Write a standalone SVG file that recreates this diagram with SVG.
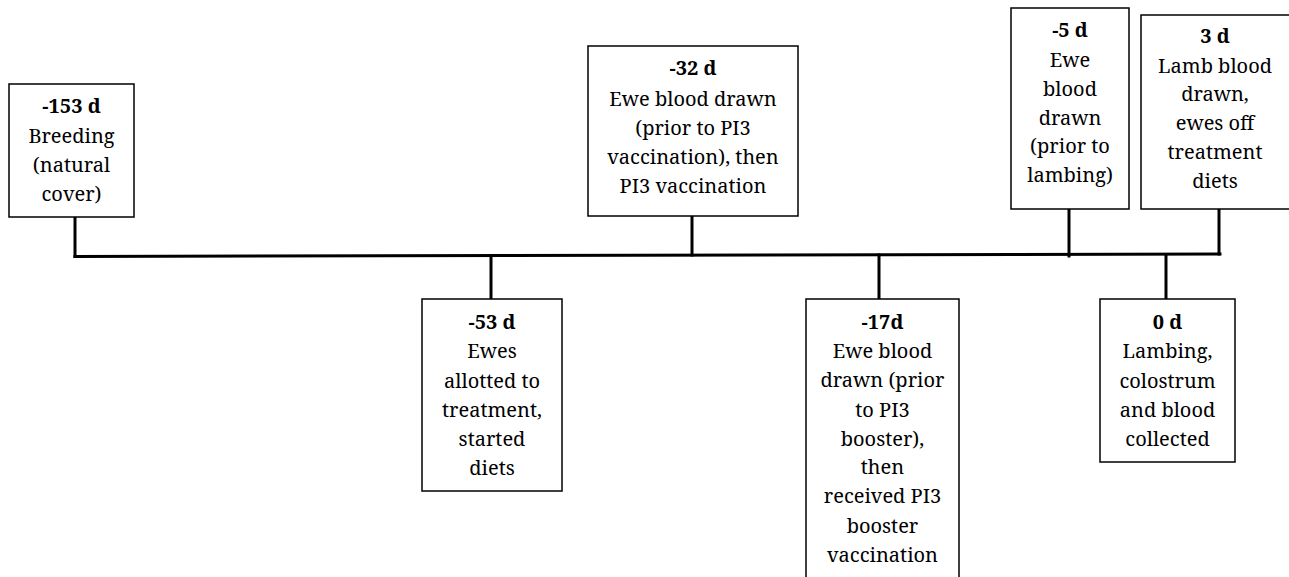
<svg xmlns="http://www.w3.org/2000/svg" width="1289" height="577" viewBox="0 0 1289 577">
<style>
.box{fill:#fff;stroke:#000;stroke-width:1.5}
.t{font-family:"Noto Serif","DejaVu Serif",serif;font-size:20px;fill:#000;text-anchor:middle}
.b{font-weight:bold}
.c{stroke:#000;stroke-width:3;fill:none;stroke-linecap:square}
</style>
<rect width="1289" height="577" fill="#fff"/>
<g id="connectors">
<line class="c" x1="75" y1="256.5" x2="1220" y2="254"/>
<line class="c" x1="75" y1="218" x2="75" y2="256.5"/>
<line class="c" x1="491" y1="255.5" x2="491" y2="298"/>
<line class="c" x1="692" y1="217" x2="692" y2="255"/>
<line class="c" x1="879" y1="255" x2="879" y2="298"/>
<line class="c" x1="1069" y1="210" x2="1069" y2="256"/>
<line class="c" x1="1166" y1="255" x2="1166" y2="298"/>
<line class="c" x1="1219" y1="210" x2="1219" y2="254"/>
</g>
<g id="n153">
<rect class="box" x="9" y="84" width="125" height="133"/>
<text class="t" x="71.5"><tspan class="b" x="71.5" y="113">-153 d</tspan><tspan x="71.5" y="143">Breeding</tspan><tspan x="71.5" y="172">(natural</tspan><tspan x="71.5" y="201">cover)</tspan></text>
</g>
<g id="n53">
<rect class="box" x="422" y="299" width="140" height="192"/>
<text class="t" x="492"><tspan class="b" x="492" y="329">-53 d</tspan><tspan x="492" y="358">Ewes</tspan><tspan x="492" y="388">allotted to</tspan><tspan x="492" y="417">treatment,</tspan><tspan x="492" y="446">started</tspan><tspan x="492" y="475">diets</tspan></text>
</g>
<g id="n32">
<rect class="box" x="588" y="46" width="210" height="170"/>
<text class="t" x="693"><tspan class="b" x="693" y="75">-32 d</tspan><tspan x="693" y="106">Ewe blood drawn</tspan><tspan x="693" y="135">(prior to PI3</tspan><tspan x="693" y="164">vaccination), then</tspan><tspan x="693" y="193">PI3 vaccination</tspan></text>
</g>
<g id="n17">
<rect class="box" x="806" y="299" width="153" height="290"/>
<text class="t" x="882.5"><tspan class="b" x="882.5" y="329">-17d</tspan><tspan x="882.5" y="358">Ewe blood</tspan><tspan x="882.5" y="387">drawn (prior</tspan><tspan x="882.5" y="417">to PI3</tspan><tspan x="882.5" y="446">booster),</tspan><tspan x="882.5" y="474">then</tspan><tspan x="882.5" y="503">received PI3</tspan><tspan x="882.5" y="533">booster</tspan><tspan x="882.5" y="562">vaccination</tspan></text>
</g>
<g id="n5">
<rect class="box" x="1011" y="8" width="118" height="201"/>
<text class="t" x="1070"><tspan class="b" x="1070" y="37">-5 d</tspan><tspan x="1070" y="67">Ewe</tspan><tspan x="1070" y="96">blood</tspan><tspan x="1070" y="125">drawn</tspan><tspan x="1070" y="153">(prior to</tspan><tspan x="1070" y="182">lambing)</tspan></text>
</g>
<g id="n3">
<rect class="box" x="1141" y="15" width="150" height="194"/>
<text class="t" x="1215"><tspan class="b" x="1215" y="43">3 d</tspan><tspan x="1215" y="73">Lamb blood</tspan><tspan x="1215" y="101">drawn,</tspan><tspan x="1215" y="130">ewes off</tspan><tspan x="1215" y="159">treatment</tspan><tspan x="1215" y="188">diets</tspan></text>
</g>
<g id="n0">
<rect class="box" x="1100" y="299" width="135" height="163"/>
<text class="t" x="1167.5"><tspan class="b" x="1167.5" y="329">0 d</tspan><tspan x="1167.5" y="358">Lambing,</tspan><tspan x="1167.5" y="388">colostrum</tspan><tspan x="1167.5" y="417">and blood</tspan><tspan x="1167.5" y="446">collected</tspan></text>
</g>
</svg>
